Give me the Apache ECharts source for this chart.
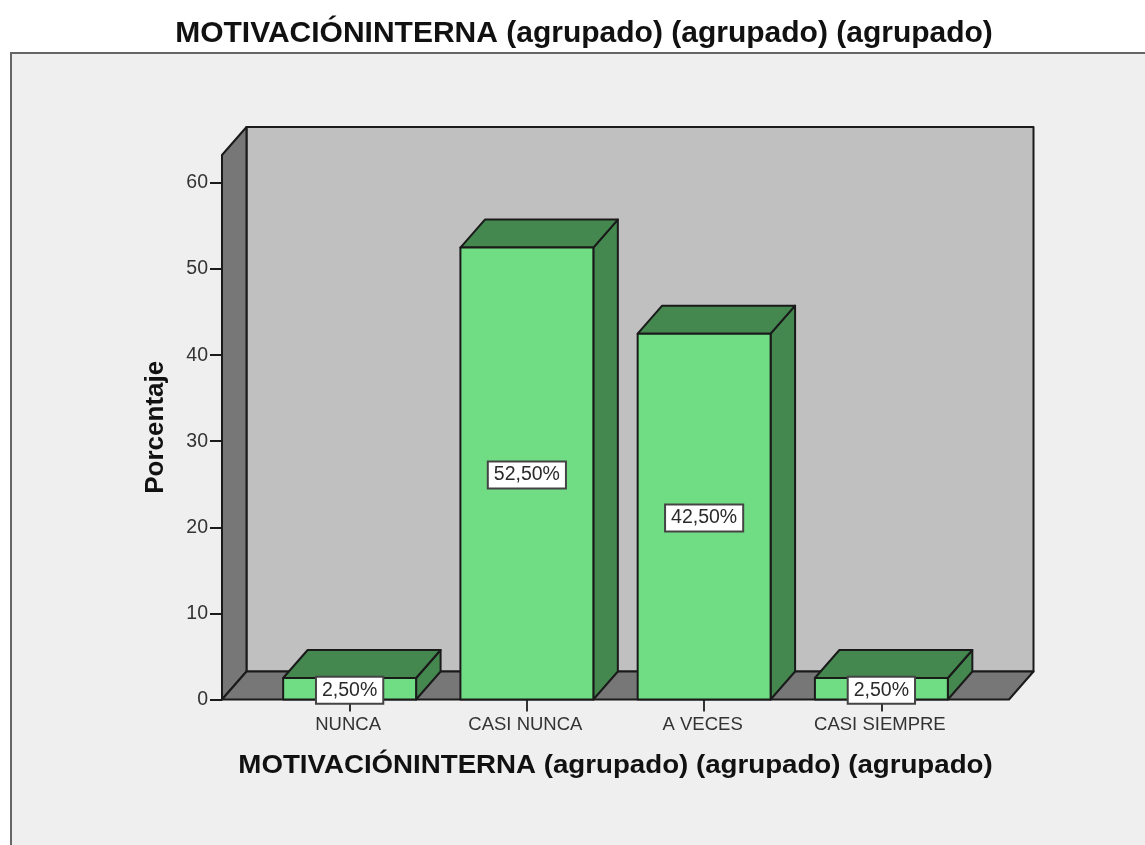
<!DOCTYPE html>
<html>
<head>
<meta charset="utf-8">
<style>
  html, body { margin: 0; padding: 0; background: #fff; }
  #chart { width: 1145px; height: 845px; }
</style>
<script src="https://cdn.jsdelivr.net/npm/echarts@6/dist/echarts.min.js"></script>
</head>
<body>
<div id="chart"></div>
<script>
const titleText = 'MOTIVACIÓNINTERNA (agrupado) (agrupado) (agrupado)'
const yName = 'Porcentaje'
const categories = ['NUNCA', 'CASI NUNCA', 'A VECES', 'CASI SIEMPRE']
const percentages = [2.5, 52.5, 42.5, 2.5]
const yTicks = [0, 10, 20, 30, 40, 50, 60]

const font = '"Liberation Sans", Arial, sans-serif'
const lineColor = '#1a1a1a'
const depthX = 24.5
const depthY = 28
const wallOffset = 39 // the walls stick out of the category bands on both sides
const yMax = 63.25

function poly(points, fill) {
  return {
    type: 'polygon',
    shape: { points },
    style: { fill, stroke: lineColor, lineWidth: 2, lineJoin: 'round' }
  }
}

// back wall, left wall and floor
function renderWalls(params, api) {
  const band = api.size([1, 0])[0]
  const bottomLeft = api.coord([0, 0])
  const topLeft = api.coord([0, yMax])
  const left = bottomLeft[0] - band / 2 - wallOffset
  const right = api.coord([categories.length - 1, 0])[0] + band / 2 + wallOffset
  const bottom = bottomLeft[1]
  const top = topLeft[1]
  return {
    type: 'group',
    children: [
      poly([[left + depthX, top - depthY], [right + depthX, top - depthY], [right + depthX, bottom - depthY], [left + depthX, bottom - depthY]], '#c0c0c0'),
      poly([[left, top], [left + depthX, top - depthY], [left + depthX, bottom - depthY], [left, bottom]], '#777777'),
      poly([[left, bottom], [left + depthX, bottom - depthY], [right + depthX, bottom - depthY], [right, bottom]], '#777777')
    ]
  }
}

// one 3d bar with its value box
function renderBar(params, api) {
  const i = api.value(0)
  const v = api.value(1)
  const band = api.size([1, 0])[0]
  const w = band * 0.75
  const base = api.coord([i, 0])
  const head = api.coord([i, v])
  const x0 = base[0] - w / 2
  const x1 = base[0] + w / 2
  const y0 = base[1]
  const y1 = head[1]
  const midY = (y0 + y1) / 2
  return {
    type: 'group',
    children: [
      poly([[x1, y1], [x1 + depthX, y1 - depthY], [x1 + depthX, y0 - depthY], [x1, y0]], '#44874f'),
      poly([[x0, y1], [x0 + depthX, y1 - depthY], [x1 + depthX, y1 - depthY], [x1, y1]], '#44874f'),
      poly([[x0, y0], [x0, y1], [x1, y1], [x1, y0]], '#70dd85'),
      {
        type: 'text',
        z2: 10,
        style: {
          x: base[0],
          y: midY + 1.5,
          text: v.toFixed(2).replace('.', ',') + '%',
          align: 'center',
          verticalAlign: 'middle',
          font: '19.5px ' + font,
          fill: '#2a2a2a',
          backgroundColor: '#ffffff',
          borderColor: '#444444',
          borderWidth: 2,
          padding: [3, 5, 2, 5]
        }
      }
    ]
  }
}

const myChart = echarts.init(document.getElementById('chart'))
myChart.setOption({
  backgroundColor: '#ffffff',
  animation: false,
  title: {
    text: titleText,
    left: 579,
    top: 14,
    textAlign: 'center',
    textStyle: { fontFamily: font, fontSize: 30, fontWeight: 'bold', color: '#111111' }
  },
  graphic: [
    {
      type: 'rect',
      z: -10,
      shape: { x: 11, y: 53, width: 1200, height: 850 },
      style: { fill: '#efefef', stroke: '#666666', lineWidth: 2 }
    },
    {
      // the x axis name is set wider than the font, same as the original
      type: 'text',
      x: 615.5,
      y: 766,
      scaleX: 1.107,
      style: {
        text: titleText,
        align: 'center',
        verticalAlign: 'middle',
        font: 'bold 25px ' + font,
        fill: '#111111'
      }
    }
  ],
  grid: { left: 261, top: 155, width: 709, height: 544.5 },
  xAxis: {
    type: 'category',
    data: categories,
    axisLine: { show: false },
    axisTick: { show: true, alignWithLabel: true, length: 12, lineStyle: { color: '#333333', width: 2 } },
    axisLabel: { margin: 16, interval: 0, padding: [0, 3, 0, 0], fontFamily: font, fontSize: 18.5, color: '#333333' }
  },
  yAxis: {
    type: 'value',
    min: 0,
    max: yMax,
    offset: wallOffset,
    name: yName,
    nameLocation: 'middle',
    nameGap: 53,
    nameTextStyle: { fontFamily: font, fontSize: 26, fontWeight: 'bold', color: '#111111' },
    splitLine: { show: false },
    axisLine: { show: false },
    axisTick: { show: true, customValues: yTicks, length: 12, lineStyle: { color: '#1a1a1a', width: 2 } },
    axisLabel: { customValues: yTicks, margin: 14, padding: [4, 0, 0, 0], fontFamily: font, fontSize: 19.5, color: '#333333' }
  },
  series: [
    {
      type: 'custom',
      name: 'walls',
      z: 1,
      silent: true,
      renderItem: renderWalls,
      data: [[0, 0]]
    },
    {
      type: 'custom',
      name: 'Porcentaje',
      z: 3,
      renderItem: renderBar,
      data: percentages.map((v, i) => [i, v])
    }
  ]
})
</script>
</body>
</html>
